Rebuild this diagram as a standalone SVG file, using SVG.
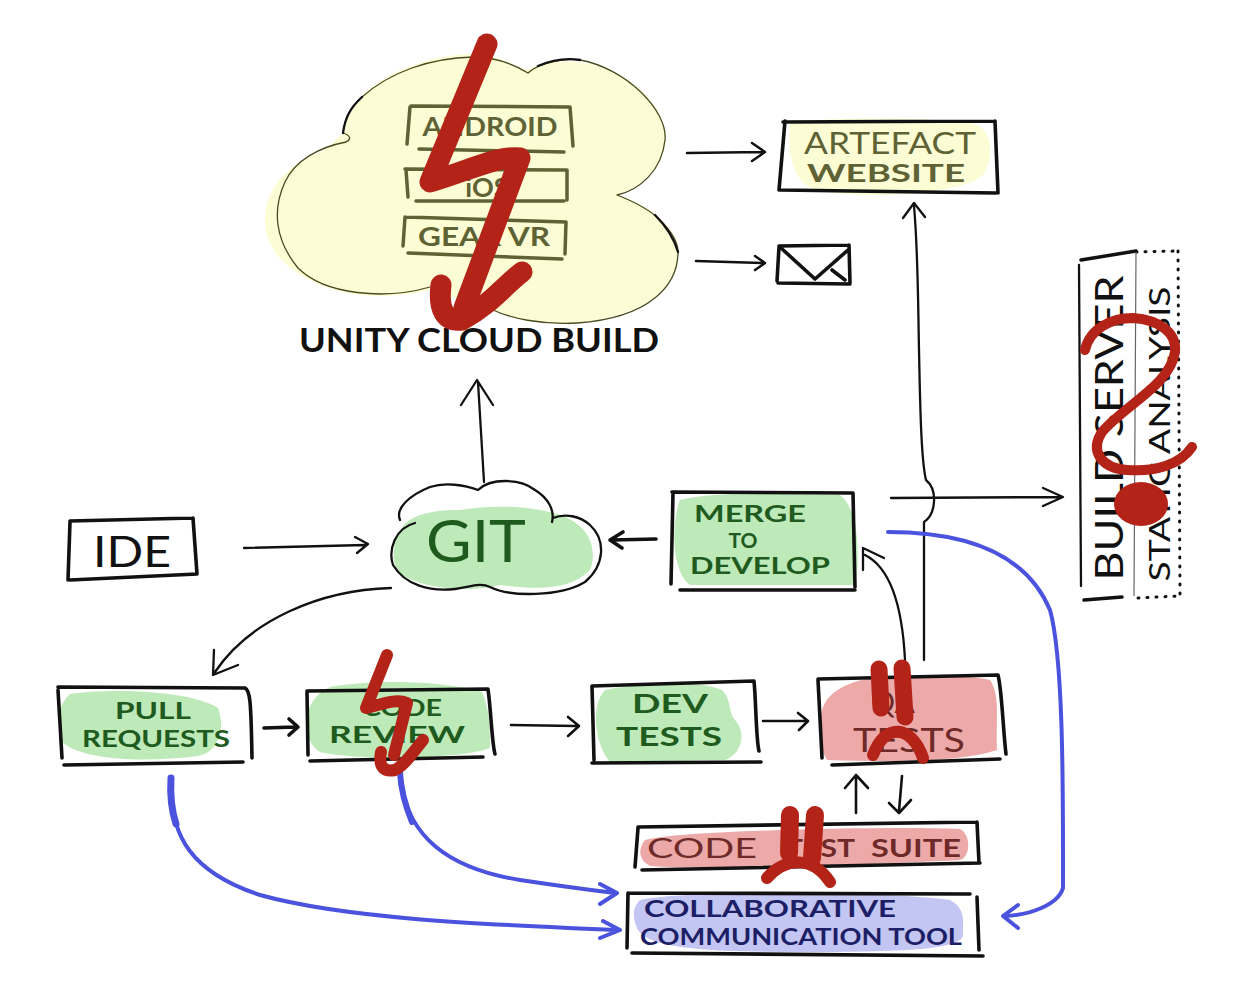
<svg xmlns="http://www.w3.org/2000/svg" width="1235" height="991" viewBox="0 0 1235 991">
<style>
text{font-family:"Lato","Liberation Sans",sans-serif;font-weight:700;text-anchor:middle}
.n{font-weight:400}
.b{fill:none;stroke:#111;stroke-width:3.6;stroke-linecap:round;stroke-linejoin:round}
.c{fill:none;stroke:#111;stroke-width:2.3;stroke-linecap:round;stroke-linejoin:round}
.t{fill:none;stroke:#4a4a20;stroke-width:1.3;stroke-linecap:round;stroke-linejoin:round}
.u{fill:none;stroke:#4a52de;stroke-width:4;stroke-linecap:round;stroke-linejoin:round}
.r{fill:none;stroke:#b42318;stroke-linecap:round;stroke-linejoin:round}
.o{fill:none;stroke:#5e6234;stroke-width:3.5;stroke-linecap:round}
.gt{fill:#1f5a1e}.rt{fill:#6e2a28}.ot{fill:#5e6234}.bt{fill:#1c1f66}.kt{fill:#111}
.gf{fill:#bdeab8}.rf{fill:#eca9a7}.bf{fill:#c3c5f3}.yf{fill:#fdfdd5}
</style>
<g id="build-cloud">
<path class="yf" d="M265 220C265 190 285 165 325 150L343 133C348 85 420 54 473 54C500 54 515 68 528 70C545 58 600 55 637 87C658 105 668 125 665 145C660 170 640 188 617 195C650 205 678 228 678 252C678 285 650 315 577 323C540 326 510 318 493 310L430 290C390 300 340 298 310 280C280 265 265 245 265 220Z"/>
<path class="t" d="M346 142C320 147 295 160 285 182C272 210 275 240 298 268C325 295 385 300 430 287M346 142C352 139 350 135 343 133C345 118 350 108 362 97C390 72 430 58 473 57C495 57 515 65 528 73C540 62 565 58 580 60C625 68 668 110 665 140C662 170 640 190 617 195C635 202 650 210 660 220C672 232 678 242 678 252C678 285 650 318 577 323C540 325 510 318 493 310"/>
<path class="c" d="M343 133C345 118 350 108 362 97M538 66C552 60 568 58 580 60M655 215C665 225 674 238 678 252"/>
</g>
<g id="android"><path class="o" d="M410 107L407 144M411 106L570 107M570 107L573 146M419 149L564 152"/><text x="490" y="136" font-size="27" class="ot" textLength="135" lengthAdjust="spacingAndGlyphs">ANDROID</text></g>
<g id="ios"><path class="o" d="M406 170L408 197M405 169L567 170M567 170L567 200M416 201L564 201"/><text x="487" y="197" font-size="27" class="ot">iOS</text></g>
<g id="gear-vr"><path class="o" d="M405 217L403 246M405 217L566 222M566 222L565 254M408 253L562 259"/><text x="484" y="246" font-size="27" class="ot" textLength="132" lengthAdjust="spacingAndGlyphs">GEAR VR</text></g>
<text id="cloud-label" x="479" y="352" font-size="32" class="kt" textLength="360" lengthAdjust="spacingAndGlyphs">UNITY CLOUD BUILD</text>
<g id="artefact-website">
<path class="yf" d="M790 123C830 116 950 118 975 124C995 132 992 160 985 172C975 192 880 200 825 192C790 188 788 150 790 123Z"/>
<path class="b" d="M785 121L779 190M783 122L995 121M995 121L998 193M780 190L996 193"/>
<text x="890" y="154" font-size="30" class="n" fill="#5e6234" textLength="172" lengthAdjust="spacingAndGlyphs">ARTEFACT</text>
<text x="886" y="182" font-size="24" fill="#5e6234" textLength="158" lengthAdjust="spacingAndGlyphs">WEBSITE</text>
</g>
<g id="email"><path class="b" d="M779 247L777 281M779 246L849 245M849 245L850 283M778 283L850 284M781 248L815 279L848 250M832 270L845 280"/></g>
<g id="static-analysis-panel">
<path d="M1136 252L1178 251M1178 251L1180 596M1138 598L1178 596" fill="none" stroke="#111" stroke-width="3" stroke-dasharray="1 8" stroke-linecap="round"/>
<path class="c" style="stroke-width:3.5" d="M1081 260L1136 251M1084 600L1122 597"/>
<path class="c" d="M1079 265L1081 586"/>
<path d="M1136 252L1134 596" fill="none" stroke="#666" stroke-width="1.2"/>
<text transform="translate(1123 428) rotate(-90)" font-size="38" class="kt n" textLength="305" lengthAdjust="spacingAndGlyphs">BUILD SERVER</text>
<text transform="translate(1170 434) rotate(-90)" font-size="29" class="kt n" textLength="295" lengthAdjust="spacingAndGlyphs">STATIC ANALYSIS</text>
</g>
<g id="ide"><path class="b" d="M70 522L68 580M70 521L193 518M193 518L197 574M70 580L197 574"/><text x="132" y="567" font-size="42" class="kt n" textLength="78" lengthAdjust="spacingAndGlyphs">IDE</text></g>
<g id="git">
<path class="gf" d="M398 535C405 515 430 510 460 510C490 505 530 505 560 515C590 525 598 550 590 570C570 590 540 590 500 585C460 595 400 585 395 565C392 555 394 545 398 535Z"/>
<path class="c" d="M415 523C395 528 388 550 393 565C405 585 430 592 455 589C470 587 480 582 490 587C510 597 560 597 585 582C605 565 606 540 590 525C580 516 565 513 553 518M400 520C395 508 410 495 430 487C445 482 465 485 478 490C490 478 520 478 535 490C548 498 555 510 552 522"/>
<text x="476" y="562" font-size="58" class="n" fill="#1f5a1e" textLength="100" lengthAdjust="spacingAndGlyphs">GIT</text>
</g>
<g id="merge-to-develop">
<path class="gf" d="M680 500C720 490 790 495 840 495C860 510 860 560 855 585L690 585C670 570 672 520 680 500Z"/>
<path class="b" d="M673 493L671 584M672 492L853 493M853 493L855 587M680 590L855 590"/>
<text x="750" y="522" font-size="22" class="gt" textLength="112" lengthAdjust="spacingAndGlyphs">MERGE</text>
<text x="743" y="548" font-size="21" class="gt">TO</text>
<text x="760" y="574" font-size="22" class="gt" textLength="140" lengthAdjust="spacingAndGlyphs">DEVELOP</text>
</g>
<g id="pull-requests">
<path class="gf" d="M70 694C110 688 190 690 218 708C226 730 218 752 198 756C150 762 85 762 62 742C56 722 58 705 70 694Z"/>
<path class="b" d="M58 690L62 758M58 687L245 688C250 690 251 700 252 758M64 765L243 762"/>
<text x="153" y="719" font-size="22" class="gt" textLength="76" lengthAdjust="spacingAndGlyphs">PULL</text>
<text x="156" y="747" font-size="23" class="gt" textLength="148" lengthAdjust="spacingAndGlyphs">REQUESTS</text>
</g>
<g id="code-review">
<path class="gf" d="M330 687C380 678 450 682 482 692C490 710 490 730 490 748C460 760 350 760 320 752C300 740 300 700 330 687Z"/>
<path class="b" d="M307 692L308 755M307 691L488 689C491 710 492 745 495 754M310 761L483 757"/>
<text x="402" y="716" font-size="22" class="gt" textLength="80" lengthAdjust="spacingAndGlyphs">CODE</text>
<text x="397" y="743" font-size="22" class="gt" textLength="136" lengthAdjust="spacingAndGlyphs">REVIEW</text>
</g>
<g id="dev-tests">
<path class="gf" d="M605 690C640 682 700 680 722 690C732 700 728 712 735 720C748 735 740 755 725 760L610 762C595 745 590 705 605 690Z"/>
<path class="b" d="M592 686L594 760M592 686L754 681C756 700 756 740 759 751M592 763L761 762"/>
<text x="670" y="713" font-size="26" class="gt" textLength="76" lengthAdjust="spacingAndGlyphs">DEV</text>
<text x="669" y="746" font-size="26" class="gt" textLength="106" lengthAdjust="spacingAndGlyphs">TESTS</text>
</g>
<g id="qa-tests">
<path class="rf" d="M823 707C830 690 850 682 867 679C900 674 960 674 990 680C1000 695 996 715 997 750C960 762 900 762 827 760C818 745 818 725 823 707Z"/>
<path class="b" d="M818 680L822 758M818 679L998 675C1002 690 1003 730 1006 754M832 765L1000 759"/>
<text x="893" y="713" font-size="30" class="rt n">QA</text>
<text x="909" y="752" font-size="32" class="rt n" textLength="112" lengthAdjust="spacingAndGlyphs">TESTS</text>
</g>
<g id="code-test-suite">
<path class="rf" d="M645 840C680 830 900 826 960 829C972 835 970 858 960 860C900 864 680 870 650 866C638 860 638 848 645 840Z"/>
<path class="b" d="M638 828L635 867M638 827L977 822M977 822L979 863M642 870L980 863"/>
<text x="702" y="858" font-size="26" class="rt n" textLength="110" lengthAdjust="spacingAndGlyphs">CODE</text>
<text x="820" y="857" font-size="24" class="rt" textLength="70" lengthAdjust="spacingAndGlyphs">TEST</text>
<text x="916" y="857" font-size="24" class="rt" textLength="90" lengthAdjust="spacingAndGlyphs">SUITE</text>
</g>
<g id="collaborative-tool">
<path class="bf" d="M640 900C680 890 900 892 950 900C968 910 962 925 963 935C962 950 900 952 800 952C720 952 650 950 638 930C632 918 632 908 640 900Z"/>
<path class="b" d="M628 893L627 948M628 893L970 894M977 897L979 950M632 953L983 956"/>
<text x="770" y="917" font-size="23" class="bt" textLength="252" lengthAdjust="spacingAndGlyphs">COLLABORATIVE</text>
<text x="801" y="945" font-size="23" class="bt" textLength="322" lengthAdjust="spacingAndGlyphs">COMMUNICATION TOOL</text>
</g>
<g id="connectors">
<path class="b" style="stroke-width:2.5" d="M687 153L762 152M752 143L765 152L752 161"/>
<path class="b" style="stroke-width:2.5" d="M696 261L762 263M755 256L765 263L755 270"/>
<path class="c" d="M924 660L924 522C936 514 938 490 926 480C921 460 920 400 919 350C918 300 918 250 914 206M903 218L914 203L925 217"/>
<path class="c" d="M891 498L1060 497M1043 488L1063 497L1043 506"/>
<path class="c" d="M484 482L478 382M461 405L477 380L493 405"/>
<path class="c" d="M244 548L365 545M355 537L368 544L357 553"/>
<path class="b" d="M656 539L612 540M623 532L610 540L622 548"/>
<path class="c" d="M391 588C320 590 250 620 215 672M214 650L213 675L238 665"/>
<path class="c" d="M905 660C903 620 895 570 865 555M863 570L863 548L884 558"/>
<path class="b" d="M264 728L295 727M289 719L298 727L289 735"/>
<path class="b" style="stroke-width:2.6" d="M511 725L576 726M568 717L579 726L568 736"/>
<path class="b" style="stroke-width:2.6" d="M763 721L806 721M798 713L808 721L799 730"/>
<path class="b" style="stroke-width:2.6" d="M856 813L856 776M845 788L856 775L868 788"/>
<path class="b" style="stroke-width:2.6" d="M902 776L899 811M889 803L899 813L911 800"/>
<path class="u" style="stroke-width:7" d="M171 778C170 795 172 812 176 824"/>
<path class="u" d="M171 790C172 835 190 872 260 895C350 920 500 925 618 930M603 921L620 930L600 938"/>
<path class="u" style="stroke-width:6" d="M400 773C401 790 405 805 412 822"/>
<path class="u" d="M401 785C410 835 445 868 520 880C560 886 590 890 615 893M600 884L617 893L600 904"/>
<path class="u" d="M888 532C960 532 1025 550 1050 610C1064 660 1063 800 1063 888C1058 905 1030 915 1004 916M1018 905L1003 916L1018 928"/>
</g>
<g id="failure-marks">
<path class="r" style="stroke-width:21" d="M487 44L430 182C470 170 500 155 520 158L464 308"/>
<path class="r" style="stroke-width:21" d="M441 285C438 310 445 322 462 320C490 305 505 285 522 272"/>
<path class="r" style="stroke-width:12" d="M387 655L366 708C380 705 395 698 407 703L394 755"/>
<path class="r" style="stroke-width:12" d="M381 752C378 768 385 772 395 770C405 765 415 750 423 740"/>
<path class="r" style="stroke-width:17" d="M879 669L881 708M902 668L905 717"/>
<path class="r" style="stroke-width:12" d="M873 755C885 722 912 725 923 758"/>
<path class="r" style="stroke-width:18" d="M790 815L789 853M815 815L812 858"/>
<path class="r" style="stroke-width:12" d="M767 878C785 858 812 855 830 882"/>
<path class="r" style="stroke-width:10" d="M1085 350C1090 328 1112 318 1133 318C1160 320 1177 333 1175 352C1170 385 1125 405 1102 432C1090 450 1100 468 1127 470C1155 472 1180 465 1192 447"/>
<ellipse cx="1141" cy="504" rx="27" ry="22" fill="#b42318"/>
</g>
</svg>
